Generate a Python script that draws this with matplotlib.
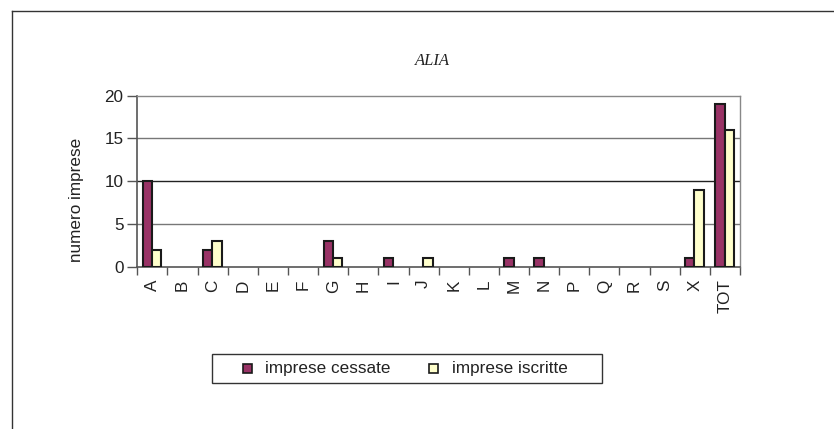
import matplotlib
matplotlib.use("Agg")
import matplotlib.pyplot as plt
from matplotlib.lines import Line2D
from matplotlib.patches import Rectangle
import numpy as np

categories = ["A", "B", "C", "D", "E", "F", "G", "H", "I", "J", "K", "L",
              "M", "N", "P", "Q", "R", "S", "X", "TOT"]
cessate = [10, 0, 2, 0, 0, 0, 3, 0, 1, 0, 0, 0, 1, 1, 0, 0, 0, 0, 1, 19]
iscritte = [2, 0, 3, 0, 0, 0, 1, 0, 0, 1, 0, 0, 0, 0, 0, 0, 0, 0, 9, 16]
series_names = ["imprese cessate", "imprese iscritte"]
yticks = [0, 5, 10, 15, 20]

plt.rcParams['font.family'] = ['Liberation Sans', 'DejaVu Sans']
FS = 12.3
W, H = 834, 429

fig = plt.figure(figsize=(8.34, 4.29), dpi=100)
ax = fig.add_axes([137.3/W, 1-266.7/H, (740-137.3)/W, (266.7-95.7)/H])

x = np.arange(len(categories))
w = 0.31
c1 = '#993366'
c2 = '#FFFFCC'
for i in range(len(categories)):
    if cessate[i] > 0:
        ax.bar(x[i]-0.5+0.18, cessate[i], width=w, align='edge', color=c1,
               edgecolor='#1a1a1a', linewidth=1.5, zorder=3)
    if iscritte[i] > 0:
        ax.bar(x[i]-0.5+0.49, iscritte[i], width=w, align='edge', color=c2,
               edgecolor='#1a1a1a', linewidth=1.5, zorder=3)

ax.set_xlim(-0.5, len(categories)-0.5)
ax.set_ylim(0, 20)
for yv in [5, 10, 15]:
    ax.axhline(yv, color='#222222' if yv == 10 else '#777777', linewidth=1.0, zorder=1)

ax.set_yticks(yticks)
ax.set_yticklabels([str(v) for v in yticks], fontsize=FS, color='#222222')
ax.set_xticks(np.arange(len(categories)+1)-0.5, minor=False)
ax.set_xticklabels([])
ax.set_xticks(x, minor=True)
ax.set_xticklabels(categories, minor=True, rotation=90, fontsize=FS, color='#222222')
ax.tick_params(axis='x', which='major', length=6, width=1, color='#555555', direction='out')
ax.tick_params(axis='x', which='minor', length=0, pad=9)
ax.tick_params(axis='y', length=7, width=1, color='#555555', direction='out', pad=3)

for s in ['top', 'right']:
    ax.spines[s].set_color('#888888')
    ax.spines[s].set_linewidth(1.0)
ax.spines['left'].set_color('#555555')
ax.spines['bottom'].set_color('#555555')
ax.spines['left'].set_linewidth(1.2)
ax.spines['bottom'].set_linewidth(1.2)

ax.set_ylabel("numero imprese", fontsize=FS, color='#222222', va='center')
ax.yaxis.set_label_coords((77-137.3)/(740-137.3), (266.7-200)/(266.7-95.7))

fig.text(432/W, 1-61/H, "ALIA", family='Liberation Serif', style='italic',
         fontsize=12, ha='center', va='center', color='#222222')

# legend (drawn manually to match the boxed layout)
fig.add_artist(Rectangle((212/W, 1-383/H), (602-212)/W, (383-354)/H,
                         transform=fig.transFigure, facecolor='white',
                         edgecolor='#333333', linewidth=1.0))
for sx, tx, col, name in [(243, 265, c1, series_names[0]), (429, 452, c2, series_names[1])]:
    fig.add_artist(Rectangle((sx/W, 1-373/H), 9/W, 9/H, transform=fig.transFigure,
                             facecolor=col, edgecolor='#1a1a1a', linewidth=1.2))
    fig.text(tx/W, 1-368.5/H, name, fontsize=FS, ha='left', va='center', color='#222222')

fig.add_artist(Line2D([12/W, 12/W], [0, 1-11/H], transform=fig.transFigure,
                      color='#333333', linewidth=1.0))
fig.add_artist(Line2D([12/W, 1], [1-11/H, 1-11/H], transform=fig.transFigure,
                      color='#333333', linewidth=1.0))

fig.savefig("out.png", dpi=100)
